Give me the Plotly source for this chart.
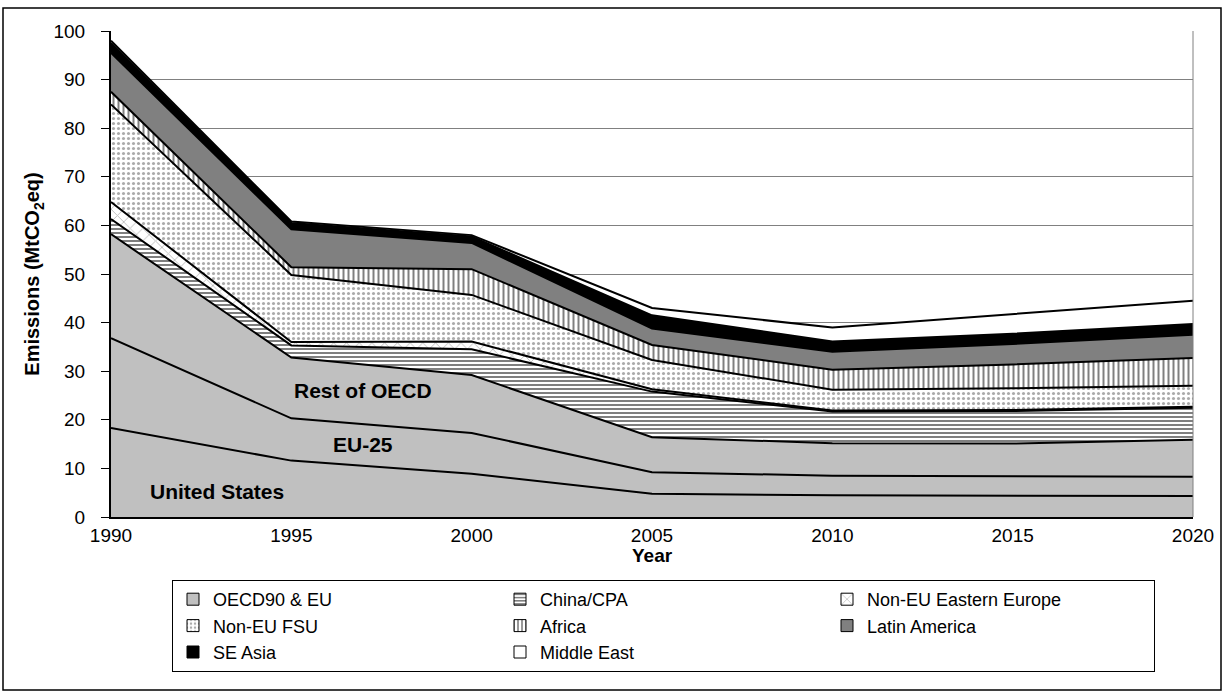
import plotly.graph_objects as go

years = [1990, 1995, 2000, 2005, 2010, 2015, 2020]
united_states = [18.3, 11.6, 8.9, 4.8, 4.45, 4.4, 4.3]
eu_25 = [18.5, 8.7, 8.4, 4.4, 4.05, 4.0, 4.0]
rest_of_oecd = [21.4, 12.5, 11.9, 7.2, 6.7, 6.7, 7.6]
china_cpa = [3.1, 2.5, 5.3, 9.4, 6.5, 6.7, 6.6]
non_eu_eastern_europe = [3.5, 0.7, 1.6, 0.5, 0.2, 0.2, 0.2]
non_eu_fsu = [20.1, 13.8, 9.6, 6.0, 4.3, 4.5, 4.3]
africa = [2.6, 1.6, 5.3, 3.1, 4.1, 4.9, 5.7]
latin_america = [8.0, 7.8, 5.4, 3.4, 3.7, 4.2, 4.8]
se_asia = [2.0, 1.3, 1.3, 2.7, 2.1, 2.1, 2.2]
middle_east = [0.5, 0.3, 0.3, 1.5, 2.9, 4.1, 4.8]

legend_names = ["OECD90 & EU", "China/CPA", "Non-EU Eastern Europe", "Non-EU FSU",
                "Africa", "Latin America", "SE Asia", "Middle East"]

FONT = "Liberation Sans, Arial, sans-serif"
LINE = dict(color="black", width=2)
GRAY = "#C0C0C0"

P_CHINA = dict(shape="-", fgcolor="black", bgcolor="white", size=4, solidity=0.5)
P_EE = dict(shape="x", fgcolor="#808080", bgcolor="white", size=9, solidity=0.2)
P_FSU = dict(shape=".", fgcolor="#555555", bgcolor="white", size=5, solidity=0.3)
P_AFR = dict(shape="|", fgcolor="black", bgcolor="white", size=5, solidity=0.4)

styles = [
    (GRAY, None), ("white", P_CHINA), ("white", P_EE), ("white", P_FSU),
    ("white", P_AFR), ("#808080", None), ("black", None), ("white", None),
]

fig = go.Figure()

def add(name, vals, fillcolor, pattern=None):
    kw = dict(
        x=years, y=vals, mode="lines", stackgroup="one", line=LINE,
        fillcolor=fillcolor, name=name, showlegend=False,
        hoverinfo="x+y+name",
    )
    if pattern:
        kw["fillpattern"] = pattern
    fig.add_trace(go.Scatter(**kw))

add("United States", united_states, GRAY)
add("EU-25", eu_25, GRAY)
add("Rest of OECD", rest_of_oecd, GRAY)
add("China/CPA", china_cpa, "white", P_CHINA)
add("Non-EU Eastern Europe", non_eu_eastern_europe, "white", P_EE)
add("Non-EU FSU", non_eu_fsu, "white", P_FSU)
add("Africa", africa, "white", P_AFR)
add("Latin America", latin_america, "#808080")
add("SE Asia", se_asia, "black")
add("Middle East", middle_east, "white")

# legend entries (square swatches)
for name, (col, pat) in zip(legend_names, styles):
    marker = dict(color=col, line=dict(color="black", width=1))
    if pat:
        marker["pattern"] = pat
    fig.add_trace(go.Bar(x=[None], y=[None], name=name, marker=marker,
                         showlegend=True, hoverinfo="skip"))

L, R, T, B = 111, 32, 31, 177
W, H = 1225, 694
pw = W - L - R
ph = H - T - B

def px_x(px):
    return (px - L) / pw

def px_y(py):
    return (H - B - py) / ph

annotations = [
    dict(x=1992.95, y=5.3, text="<b>United States</b>"),
    dict(x=1997.0, y=14.9, text="<b>EU-25</b>"),
    dict(x=1997.0, y=26.0, text="<b>Rest of OECD</b>"),
]
for a in annotations:
    a.update(xref="x", yref="y", showarrow=False,
             font=dict(family=FONT, size=21, color="black"))
annotations.append(dict(
    xref="paper", yref="paper", x=0.5, y=px_y(555), xanchor="center", yanchor="middle",
    text="<b>Year</b>", showarrow=False, font=dict(family=FONT, size=19, color="black")))

fig.update_layout(
    width=W, height=H,
    margin=dict(l=L, r=R, t=T, b=B, autoexpand=False),
    paper_bgcolor="white", plot_bgcolor="white",
    font=dict(family=FONT, size=19, color="black"),
    annotations=annotations,
    showlegend=True,
    legend=dict(
        orientation="h", x=px_x(172), y=px_y(580), xanchor="left", yanchor="top",
        bordercolor="black", borderwidth=1, bgcolor="white",
        entrywidth=282, entrywidthmode="pixels", itemwidth=30,
        font=dict(family=FONT, size=18), tracegroupgap=0,
        traceorder="normal",
    ),
    xaxis=dict(
        type="linear", range=[1990, 2020], tickmode="linear", tick0=1990, dtick=5,
        ticks="", showgrid=False, zeroline=False,
        showline=True, linecolor="black", linewidth=2,
        tickfont=dict(family=FONT, size=19), ticklabelstandoff=0,
        minor=dict(tickmode="linear", tick0=1990, dtick=10, ticks="outside",
                   ticklen=6, tickcolor="black", showgrid=False),
        automargin=False,
    ),
    yaxis=dict(
        range=[0, 100], tickmode="linear", tick0=0, dtick=10,
        ticks="outside", ticklen=8, tickcolor="black",
        showgrid=True, gridcolor="#808080", gridwidth=1, zeroline=False,
        showline=True, linecolor="black", linewidth=2,
        tickfont=dict(family=FONT, size=19), ticklabelstandoff=12,
        title=dict(text="<b>Emissions (MtCO<sub>2</sub>eq)</b>",
                   font=dict(family=FONT, size=20), standoff=8),
        automargin=False,
    ),
    shapes=[
        dict(type="rect", xref="paper", yref="paper",
             x0=px_x(3), x1=px_x(1221), y0=px_y(690), y1=px_y(8),
             line=dict(color="black", width=1.5), fillcolor="rgba(0,0,0,0)", layer="below"),
        dict(type="line", xref="paper", yref="paper", x0=1, x1=1, y0=0, y1=1,
             line=dict(color="#808080", width=1)),
    ],
)

fig.write_html("out.html", config={"displayModeBar": False},
               post_script="document.body.style.margin='0px';document.body.style.overflow='hidden';")
